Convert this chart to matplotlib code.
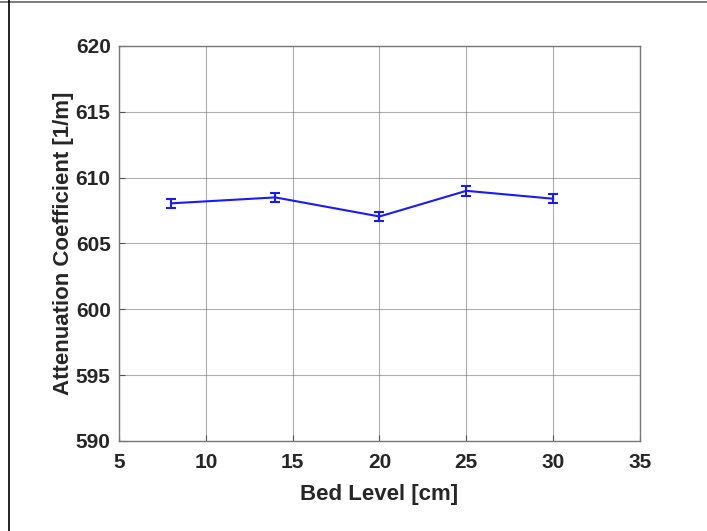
import matplotlib
matplotlib.use('Agg')
import matplotlib.pyplot as plt
from matplotlib.lines import Line2D

# bed level vs attenuation coefficient
bed_level = [8, 14, 20, 25, 30]
atten = [608.05, 608.5, 607.05, 609.0, 608.4]
atten_err = [0.35, 0.35, 0.35, 0.4, 0.35]

x_ticks = [5, 10, 15, 20, 25, 30, 35]
y_ticks = [590, 595, 600, 605, 610, 615, 620]

plt.rcParams['font.family'] = ['Liberation Sans', 'DejaVu Sans']
plt.rcParams['font.weight'] = 'bold'

fig = plt.figure(figsize=(7.07, 5.31), dpi=100)
ax = fig.add_axes([0.1683, 0.1695, 0.7369, 0.7439])

ax.errorbar(bed_level, atten, yerr=atten_err, color='#1a1aff', lw=1.5,
            capsize=3.5, capthick=1.5, elinewidth=1.5)

ax.set_xlim(5, 35)
ax.set_ylim(590, 620)
ax.set_xticks(x_ticks)
ax.set_yticks(y_ticks)
ax.tick_params(direction='in', length=4, color='#555555', labelsize=15, pad=6)
ax.tick_params(axis='x', pad=9)
for lab in ax.get_xticklabels() + ax.get_yticklabels():
    lab.set_fontweight('bold')
    lab.set_color('#262626')
ax.grid(True, color='#777777', lw=0.8, alpha=0.6)
for s in ax.spines.values():
    s.set_color('#777777')
    s.set_linewidth(1.0)

ax.set_xlabel('Bed Level [cm]', fontsize=16, fontweight='bold', color='#262626', labelpad=8)
ax.set_ylabel('Attenuation Coefficient [1/m]', fontsize=16, fontweight='bold', color='#262626', labelpad=1)

# outer frame lines (top and left)
fig.add_artist(Line2D([0, 1], [0.997, 0.997], color='#666666', lw=1.2, transform=fig.transFigure))
fig.add_artist(Line2D([0.0125, 0.0125], [0, 1], color='black', lw=1.2, transform=fig.transFigure))

fig.savefig('out.png', dpi=100)
